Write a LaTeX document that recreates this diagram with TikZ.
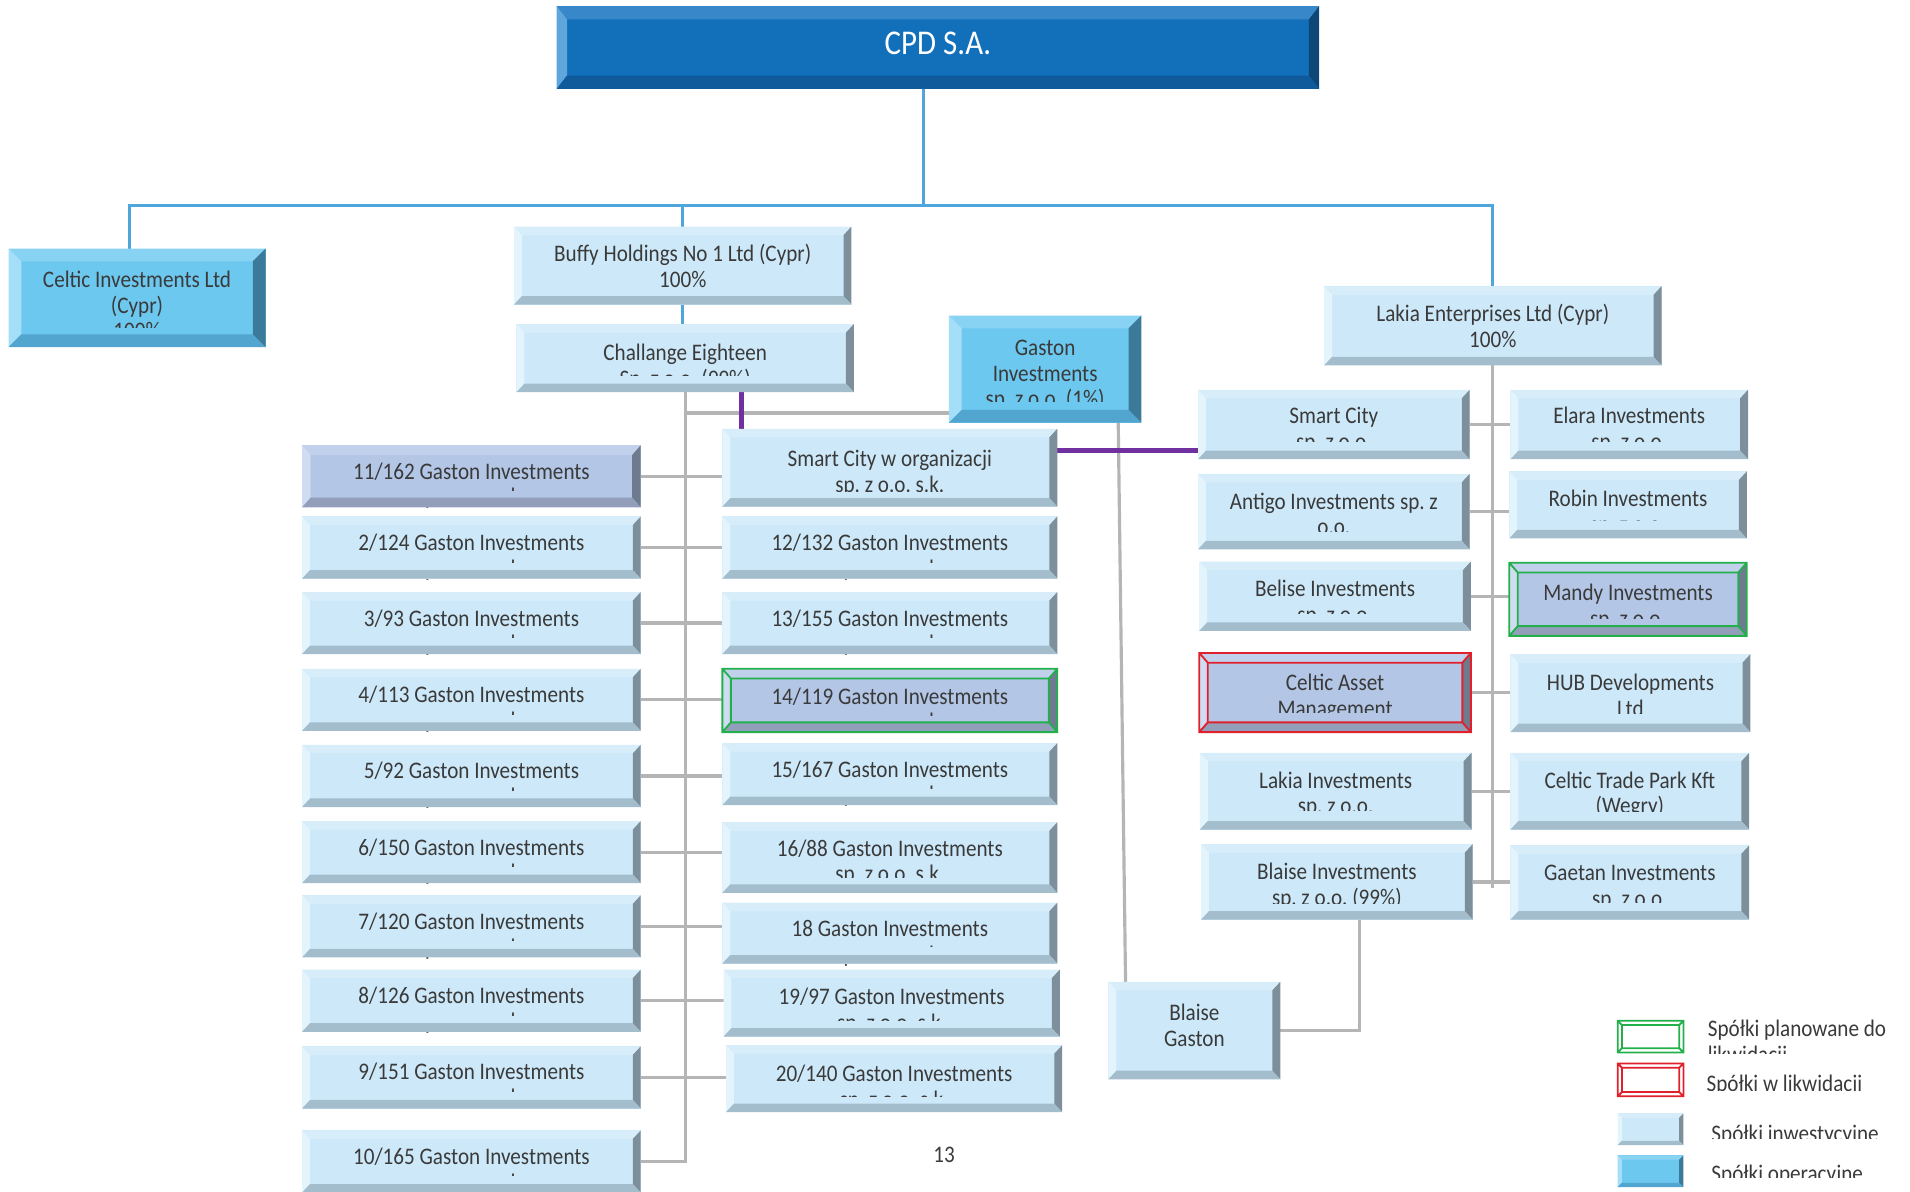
\documentclass[tikz,border=0pt]{standalone}
\usepackage{fontspec}
\setmainfont[FakeStretch=0.89]{Carlito}
\usetikzlibrary{calc,backgrounds}
\frenchspacing

\definecolor{ink}{HTML}{3A3A3A}
\definecolor{lnblue}{HTML}{4EA6DC}
\definecolor{lngrey}{HTML}{B5B5B5}
\definecolor{lnpurple}{HTML}{7030A0}
\definecolor{grn}{HTML}{22B04B}
\definecolor{rd}{HTML}{E0212B}
% investment boxes
\definecolor{invF}{HTML}{CDE9F9}
\definecolor{invT}{HTML}{D7EEFA}
\definecolor{invL}{HTML}{E3F4FD}
\definecolor{invR}{HTML}{7C8F9A}
\definecolor{invB}{HTML}{A3BDCD}
% operating boxes
\definecolor{opF}{HTML}{6CC8EF}
\definecolor{opT}{HTML}{88D3F4}
\definecolor{opL}{HTML}{A5DEF8}
\definecolor{opR}{HTML}{3B7A99}
\definecolor{opB}{HTML}{52A5CF}
% marked boxes
\definecolor{lavF}{HTML}{B3C6E6}
\definecolor{lavT}{HTML}{C1D1EC}
\definecolor{lavL}{HTML}{CFDCF1}
\definecolor{lavR}{HTML}{6E7B8F}
\definecolor{lavB}{HTML}{939FBA}
% parent
\definecolor{cpdF}{HTML}{1270BA}
\definecolor{cpdT}{HTML}{3888C9}
\definecolor{cpdL}{HTML}{5EA6DC}
\definecolor{cpdR}{HTML}{0E4777}
\definecolor{cpdB}{HTML}{10599A}

% bevel of a box: node, kind, side, top/bottom, text cut
\newcommand{\bevel}[5]{%
  \fill[#2F] ($(#1.south west)+(#3,-#5)$) rectangle ($(#1.south east)+(-#3,0)$);
  \fill[#2T] (#1.north west) -- (#1.north east) -- ++(-#3,#4) -- ($(#1.north west)+(#3,#4)$) -- cycle;
  \fill[#2L] (#1.north west) -- ++(#3,#4) -- ($(#1.south west)+(#3,-#4)$) -- (#1.south west) -- cycle;
  \fill[#2R] (#1.north east) -- ++(-#3,#4) -- ($(#1.south east)+(-#3,-#4)$) -- (#1.south east) -- cycle;
  \fill[#2B] (#1.south west) -- (#1.south east) -- ++(-#3,-#4) -- ($(#1.south west)+(#3,-#4)$) -- cycle;
}
% double frame: node, colour, side, top/bottom
\newcommand{\ring}[4]{%
  \draw[#2, line width=1.5pt] (#1.north west) rectangle (#1.south east)
    ($(#1.north west)+(#3,#4)$) rectangle ($(#1.south east)+(-#3,-#4)$)
    (#1.north west) -- ++(#3,#4) (#1.north east) -- ++(-#3,#4)
    (#1.south west) -- ++(#3,-#4) (#1.south east) -- ++(-#3,-#4);
}

\begin{document}
\begin{tikzpicture}[x=1pt, y=-1pt,
  every node/.style={inner sep=0pt, outer sep=0pt, align=flush center, text=ink,
    font=\fontsize{19.5}{21}\selectfont},
  tl/.style={text height=#1pt, text depth=0pt},
  tu/.style={text height=0pt, text depth=#1pt},
  inv/.style={fill=invF}, op/.style={fill=opF}, lav/.style={fill=lavF},
  gcol/.style={minimum width=278pt, minimum height=51pt, text width=262pt, tl=5},
  mcol/.style={minimum width=275pt, minimum height=51pt, text width=262pt, tl=5},
  rcol/.style={minimum width=223pt, text width=212pt},
  fcol/.style={minimum width=195pt, text width=186pt},
  blu/.style={draw=lnblue, line width=2.6pt},
  gry/.style={draw=lngrey, line width=2.6pt},
  pur/.style={draw=lnpurple, line width=4pt}
]
\useasboundingbox (0,0) rectangle (1568,978);

% top level
\node[fill=cpdF, minimum width=626pt, minimum height=68pt, text width=500pt, tl=12,
  text=white, font=\fontsize{28.5}{30}\selectfont] (cpd) at (770,39) {CPD S.A.};
\node[op, minimum width=211pt, minimum height=81pt, text width=200pt, tu=17] (celtic) at (112.5,244.5) {Celtic Investments Ltd\\(Cypr)\\100\%};
\node[inv, minimum width=277pt, minimum height=64pt, text width=262pt, tu=6] (buffy) at (560.5,218) {Buffy Holdings No 1 Ltd (Cypr)\\100\%};
\node[inv, minimum width=277pt, minimum height=56pt, text width=262pt, tl=4] (chal) at (562.5,294) {Challange Eighteen\\Sp. z o.o. (99\%)};
\node[op, minimum width=158pt, minimum height=88pt, text width=145pt, tu=22] (gaston) at (858,303) {Gaston\\Investments\\sp. z o.o. (1\%)};
\node[inv, minimum width=277pt, minimum height=65pt, text width=262pt, tu=7] (lakia) at (1225.5,267.5) {Lakia Enterprises Ltd (Cypr)\\100\%};

% left column
\node[lav, gcol] (g11) at (387,391) {11/162 Gaston Investments\\sp. z o.o. s.k.};
\node[inv, gcol] (g2) at (387,449.5) {2/124 Gaston Investments\\sp. z o.o. s.k.};
\node[inv, gcol] (g3) at (387,511.5) {3/93 Gaston Investments\\sp. z o.o. s.k.};
\node[inv, gcol] (g4) at (387,574.5) {4/113 Gaston Investments\\sp. z o.o. s.k.};
\node[inv, gcol] (g5) at (387,637) {5/92 Gaston Investments\\sp. z o.o. s.k.};
\node[inv, gcol] (g6) at (387,699.5) {6/150 Gaston Investments\\sp. z o.o. s.k.};
\node[inv, gcol] (g7) at (387,760.5) {7/120 Gaston Investments\\sp. z o.o. s.k.};
\node[inv, gcol] (g8) at (387,821.5) {8/126 Gaston Investments\\sp. z o.o. s.k.};
\node[inv, gcol, tl=4] (g9) at (387,884.5) {9/151 Gaston Investments\\sp. z o.o. s.k.};
\node[inv, gcol] (g10) at (387,953.5) {10/165 Gaston Investments\\sp. z o.o. s.k.};

% middle column
\node[inv, mcol, minimum height=64pt, tu=2] (scw) at (730.5,384) {Smart City w organizacji\\sp. z o.o. s.k.};
\node[inv, mcol] (g12) at (730.5,449.5) {12/132 Gaston Investments\\sp. z o.o. s.k.};
\node[inv, mcol] (g13) at (730.5,511.5) {13/155 Gaston Investments\\sp. z o.o. s.k.};
\node[lav, mcol, minimum height=52pt, tl=6] (g14) at (730.5,575) {14/119 Gaston Investments\\sp. z o.o. s.k.};
\node[inv, mcol] (g15) at (730.5,635.5) {15/167 Gaston Investments\\sp. z o.o. s.k.};
\node[inv, mcol, minimum height=58pt, tu=2] (g16) at (730.5,704) {16/88 Gaston Investments\\sp. z o.o. s.k.};
\node[inv, mcol, minimum height=50pt, tl=6] (g18) at (730.5,766) {18 Gaston Investments\\sp. z o.o. s.k.};
\node[inv, mcol, minimum width=276pt, minimum height=55pt, tl=3] (g19) at (732,823.5) {19/97 Gaston Investments\\sp. z o.o. s.k.};
\node[inv, mcol, minimum width=276pt, minimum height=55pt, tl=5] (g20) at (734,885.5) {20/140 Gaston Investments\\sp. z o.o. s.k.};

% right block
\node[inv, rcol, minimum height=57pt, tu=1] (smc) at (1095,348.5) {Smart City\\sp. z o.o.};
\node[inv, rcol, minimum height=62pt, tu=4] (antigo) at (1095,420) {Antigo Investments sp. z\\o.o.};
\node[inv, rcol, minimum height=57pt, tl=1] (belise) at (1096,489.5) {Belise Investments\\sp. z o.o.};
\node[lav, rcol, minimum height=65pt, tu=3] (casset) at (1096,568.5) {Celtic Asset\\Management};
\node[inv, rcol, minimum height=63pt, tu=5] (lakinv) at (1096.5,649.5) {Lakia Investments\\sp. z o.o.};
\node[inv, rcol, minimum height=62pt, tu=4] (blaise) at (1097.5,724) {Blaise Investments\\sp. z o.o. (99\%)};
\node[inv, fcol, minimum height=57pt, tu=1] (elara) at (1337.5,348.5) {Elara Investments\\sp. z o.o.};
\node[inv, fcol, minimum height=55pt, tl=3] (robin) at (1336.5,414.5) {Robin Investments\\sp. z o.o.};
\node[lav, fcol, minimum height=60pt, tl=2] (mandy) at (1336.5,492) {Mandy Investments\\sp. z o.o.};
\node[inv, fcol, minimum width=197pt, minimum height=64pt, tu=4] (hubdev) at (1338.5,569) {HUB Developments\\Ltd};
\node[inv, fcol, minimum width=196pt, minimum height=63pt, tu=5] (ctp) at (1338,649.5) {Celtic Trade Park Kft\\(Węgry)};
\node[inv, fcol, minimum width=196pt, minimum height=61pt, tu=3] (gaetan) at (1338,724.5) {Gaetan Investments\\sp. z o.o.};
\node[inv, minimum width=141pt, minimum height=80pt, text width=125pt, tu=16] (bg) at (980.5,846) {Blaise\\Gaston};

\node (pg) at (775,948) {13};

% legend
\node[fill=white, minimum width=54pt, minimum height=26pt] (lg1) at (1355,851) {};
\node[fill=white, minimum width=54pt, minimum height=27pt] (lg2) at (1355,886.5) {};
\node[inv, minimum width=54pt, minimum height=26pt] (lg3) at (1355,927) {};
\node[op, minimum width=54pt, minimum height=26pt] (lg4) at (1355,961.5) {};
\begin{scope}
  \clip (1390,820) rectangle (1568,865);
  \node[anchor=base west, text width=170pt, align=flush left] (lt1) at (1402,851) {Spółki planowane do\\likwidacji};
\end{scope}
\begin{scope}
  \clip (1390,870) rectangle (1568,895);
  \node[anchor=base west] (lt2) at (1401,896) {Spółki w likwidacji};
\end{scope}
\begin{scope}
  \clip (1390,905) rectangle (1568,934.5);
  \node[anchor=base west] (lt3) at (1405,937) {Spółki inwestycyjne};
\end{scope}
\begin{scope}
  \clip (1390,945) rectangle (1568,967);
  \node[anchor=base west] (lt4) at (1405,970) {Spółki operacyjne};
\end{scope}

% connectors
\begin{scope}[on background layer]
  \coordinate (top) at (758,169);
  \draw[blu] (cpd.south -| top) -- (top);
  \draw[blu] ([xshift=-6pt]celtic.north) |- (top) -| (lakia.north);
  \draw[blu] (buffy.north) -- (buffy.north |- top);
  \draw[blu] (buffy.south) -- (buffy.south |- chal.north);
  \draw[gry] (chal.south) |- (g10.east);
  \foreach \a/\b in {g11/scw,g2/g12,g3/g13,g4/g14,g5/g15,g6/g16,g7/g18,g8/g19,g9/g20}
    \draw[gry] (\a.east) -- (\a.east -| \b.west);
  \coordinate (gj) at (562.5,339);
  \draw[gry] (gj) -- (gj -| gaston.west);
  \draw[gry] ([xshift=-19pt]gaston.south east) -- ([xshift=14pt]bg.north west);
  \draw[gry] (bg.east) -| ([xshift=18.5pt]blaise.south);
  \coordinate (rend) at (1225.5,729);
  \draw[gry] (lakia.south) -- (rend);
  \foreach \a/\b in {smc/elara,antigo/robin,belise/mandy,casset/hubdev,lakinv/ctp,blaise/gaetan}
    \draw[gry] (\a.east) -- (\a.east -| \b.west);
  \coordinate (pj) at (609,0);
  \draw[pur] (pj |- chal.south) -- (pj |- scw.north);
  \coordinate (pk) at (0,370);
  \draw[pur] (pk -| scw.east) -- (pk -| smc.west);
\end{scope}

% bevels
\bevel{cpd}{cpd}{8.5}{11}{11}
\foreach \n/\c in {celtic/15.5,gaston/17} {\bevel{\n}{op}{10.5}{10.5}{\c}}
\foreach \n/\c in {buffy/13.5,chal/13.5,lakia/13.5,smc/14,antigo/14.5,belise/14,lakinv/15,blaise/13,elara/14,robin/14.5,hubdev/15,ctp/14.5,gaetan/13.5} {\bevel{\n}{inv}{6.5}{7}{\c}}
\foreach \n in {g2,g3,g4,g5,g6,g7,g8,g9,g10,g12,g13,g15,g18} {\bevel{\n}{inv}{6.5}{7}{13.2}}
\foreach \n in {g16,g19,g20} {\bevel{\n}{inv}{6.5}{7}{12.5}}
\bevel{scw}{inv}{6.5}{7}{12}
\bevel{bg}{inv}{6.5}{7}{7}
\foreach \n/\c in {g11/13.2,g14/13.2,casset/15.5,mandy/14} {\bevel{\n}{lav}{7}{8}{\c}}
\ring{g14}{grn}{7}{8}
\ring{mandy}{grn}{7}{8}
\ring{casset}{rd}{7}{8}
\ring{lg1}{grn}{3.5}{3.5}
\ring{lg2}{rd}{3.5}{3.5}
\bevel{lg3}{inv}{3.5}{3.5}{3.5}
\bevel{lg4}{op}{3.5}{3.5}{3.5}
\end{tikzpicture}
\end{document}
